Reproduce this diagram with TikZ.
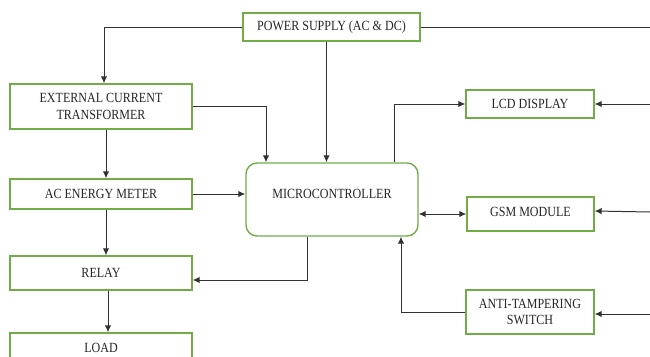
\documentclass[tikz,border=0pt]{standalone}
\usepackage{fontspec}
\setmainfont{Liberation Serif}[FakeStretch=0.86]
\usepackage{tikz}
\usetikzlibrary{arrows.meta}
\definecolor{boxgreen}{RGB}{112,173,71}
\definecolor{wiregray}{RGB}{50,50,50}

\begin{document}
\begin{tikzpicture}[x=1pt,y=1pt,>={Latex[length=7pt,width=6.5pt]}]
\tikzstyle{every node}+=[inner sep=0pt,font=\fontsize{14}{16.5}\selectfont,text=black!85]
\tikzstyle{blk}=[draw=boxgreen,line width=1.4pt,fill=white,align=center]
\tikzstyle{wire}=[draw=wiregray,line width=1pt,->]
\clip (0,0) rectangle (650,-356);
\node [blk,minimum width=177,minimum height=28] (power) at (331.5,-27) {POWER SUPPLY (AC \& DC)};
\node [blk,minimum width=182,minimum height=45] (ect) at (101,-106.5) {EXTERNAL CURRENT\\TRANSFORMER};
\node [blk,minimum width=182,minimum height=30] (meter) at (101,-194) {AC ENERGY METER};
\node [blk,minimum width=182,minimum height=34] (relay) at (101,-273) {RELAY};
\node [blk,minimum width=182,minimum height=30] (load) at (101,-348) {LOAD};
\node [blk,rounded corners=11pt,minimum width=172,minimum height=73,text depth=12pt] (mcu) at (332,-199.5) {MICROCONTROLLER};
\node [blk,minimum width=128,minimum height=28] (lcd) at (530,-104) {LCD DISPLAY};
\node [blk,minimum width=127,minimum height=34,text depth=5pt] (gsm) at (530.5,-214) {GSM MODULE};
\node [blk,minimum width=128,minimum height=44] (anti) at (530,-312) {ANTI-TAMPERING\\SWITCH};
\coordinate (eTop) at (650,-27);
\coordinate (eLcd) at (650,-104);
\coordinate (eGsm) at (650,-212);
\coordinate (eAnti) at (650,-314);
% supply lines
\draw [wire] (power.west) -| ([xshift=3]ect.north);
\draw [wire,-] (power.east) -- (eTop);
\draw [wire] ([xshift=-5]power.south) -- ([xshift=-5]power.south |- mcu.north);
% measuring chain
\draw [wire] (ect.east) -| ([xshift=-66]mcu.north);
\draw [wire] ([xshift=5]ect.south) -- ([xshift=5]meter.north);
\draw [wire] (meter.east) -- (meter.east -| mcu.west);
\draw [wire] ([xshift=5]meter.south) -- ([xshift=5]relay.north);
\draw [wire] ([xshift=7]relay.south) -- ([xshift=7]load.north);
\draw [wire] ([xshift=-25]mcu.south) |- ([yshift=-7]relay.east);
% right side
\draw [wire] ([xshift=62]mcu.north) |- (lcd.west);
\draw [wire] (eLcd) -- (lcd.east);
\draw [wire,<->] (gsm.west -| mcu.east) -- (gsm.west);
\draw [wire] (eGsm) -- ([yshift=3]gsm.east);
\draw [wire] (anti.west) -| ([xshift=69]mcu.south);
\draw [wire] (eAnti) -- ([yshift=-2]anti.east);
\end{tikzpicture}
\end{document}
